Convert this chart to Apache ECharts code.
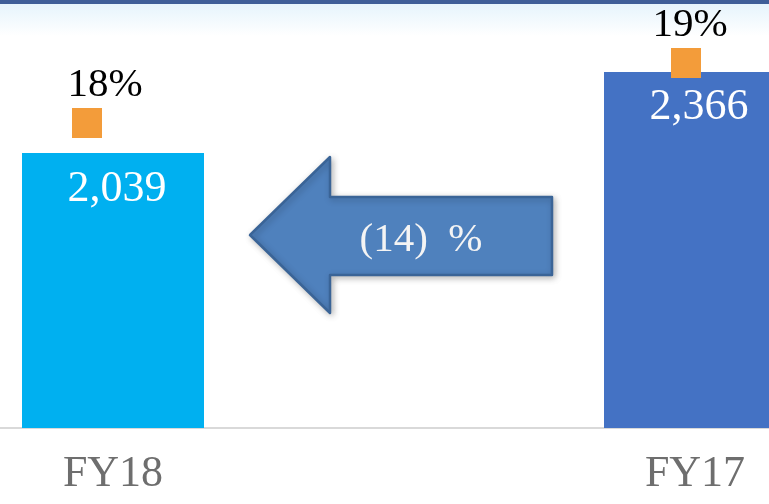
<!DOCTYPE html>
<html>
<head>
<meta charset="utf-8">
<script src="https://cdn.jsdelivr.net/npm/echarts@6/dist/echarts.min.js"></script>
<style>
html,body{margin:0;padding:0;background:#fff;}
#c{width:769px;height:504px;}
</style>
</head>
<body>
<div id="c"></div>
<script>
const categories = ['FY18', 'FY17'];
const revenue = [2039, 2366];
const marginPct = [18, 19];
const changeLabel = '(14)  %';

const barColors = ['#00B0F0', '#4472C4'];
const markerOffsets = [[-26, 0], [-9, 0]];
const pctLabelOffsets = [[18, 0], [4, 0]];

function fmt(n) { return String(n).replace(/\B(?=(\d{3})+(?!\d))/g, ','); }

const serif = 'Liberation Serif, Times New Roman, serif';
const chart = echarts.init(document.getElementById('c'), null, {renderer: 'canvas'});

chart.setOption({
  backgroundColor: '#ffffff',
  animation: false,
  grid: {left: -178, width: 1164, top: 0, height: 428, outerBoundsMode: 'none', containLabel: false},
  xAxis: {
    type: 'category',
    data: categories,
    axisLine: {show: true, lineStyle: {color: '#d9d9d9', width: 2}},
    axisTick: {show: false},
    axisLabel: {fontFamily: serif, fontSize: 44, color: '#6e6e6e', margin: 24}
  },
  yAxis: [
    {type: 'value', min: 930, max: 2656, show: false, splitLine: {show: false}},
    {type: 'value', min: 12.917, max: 20.05, show: false, splitLine: {show: false}}
  ],
  series: [
    {
      type: 'bar',
      barWidth: 182,
      data: revenue.map((v, i) => ({value: v, itemStyle: {color: barColors[i]}})),
      label: {
        show: true, position: 'insideTop', distance: 14, offset: [4, 0],
        fontFamily: serif, fontSize: 44, color: '#ffffff',
        formatter: p => fmt(p.value)
      }
    },
    {
      type: 'scatter',
      yAxisIndex: 1,
      symbol: 'rect',
      symbolSize: 30,
      itemStyle: {color: '#F39C3A', opacity: 1},
      data: marginPct.map((v, i) => ({
        value: v,
        symbolOffset: markerOffsets[i],
        label: {offset: pctLabelOffsets[i]}
      })),
      label: {
        show: true, position: 'top', distance: 2,
        fontFamily: serif, fontSize: 41, color: '#000000',
        formatter: p => p.value + '%'
      }
    }
  ],
  graphic: [
    {
      type: 'rect', left: 0, top: 4, z: -1,
      shape: {width: 769, height: 32},
      style: {fill: new echarts.graphic.LinearGradient(0, 0, 0, 1, [
        {offset: 0, color: '#e6f4fc'}, {offset: 1, color: '#ffffff'}])}
    },
    {
      type: 'rect', left: 0, top: 0,
      shape: {width: 769, height: 4},
      style: {fill: '#3F5E98'}
    },
    {
      type: 'polygon',
      shape: {points: [[250, 235], [330, 157], [330, 197], [552, 197], [552, 275], [330, 275], [330, 313]]},
      style: {
        fill: '#4F81BD', stroke: '#3A6497', lineWidth: 2.5, lineJoin: 'round',
        shadowBlur: 6, shadowColor: 'rgba(0,0,0,0.25)', shadowOffsetX: 2, shadowOffsetY: 2
      },
      z: 10
    },
    {
      type: 'text',
      x: 421, y: 240,
      style: {
        text: changeLabel, fill: '#f4f4f4', font: '41px ' + serif,
        textAlign: 'center', textVerticalAlign: 'middle'
      },
      z: 11
    }
  ]
});
</script>
</body>
</html>
